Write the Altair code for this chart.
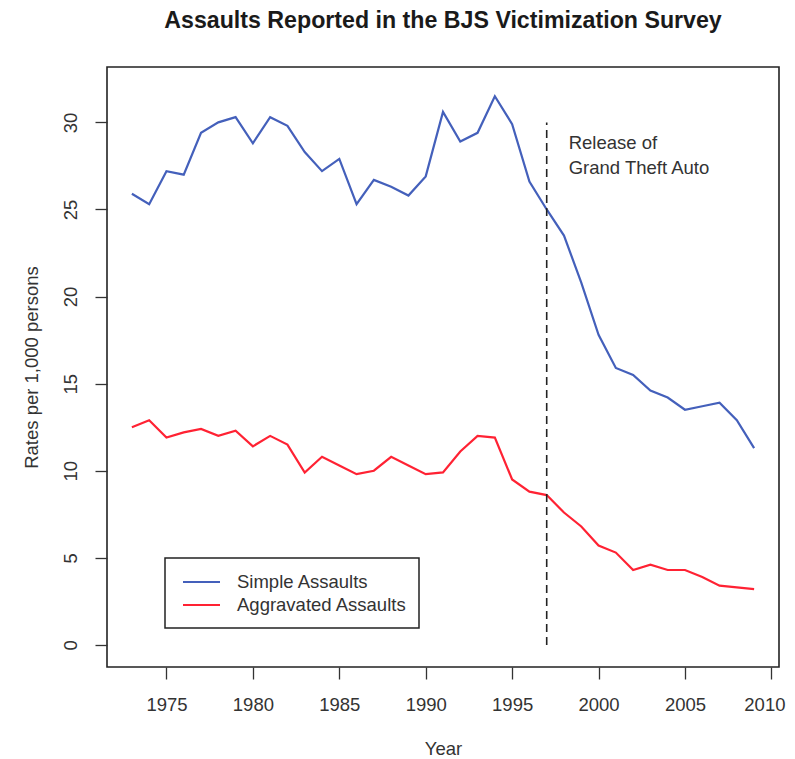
import altair as alt
import pandas as pd

years = list(range(1973, 2010))
simple_assaults = [25.9, 25.3, 27.2, 27.0, 29.4, 30.0, 30.3, 28.8, 30.3, 29.8,
                   28.3, 27.2, 27.9, 25.3, 26.7, 26.3, 25.8, 26.9, 30.6, 28.9,
                   29.4, 31.5, 29.9, 26.6, 25.0, 23.5, 20.8, 17.8, 15.9, 15.5,
                   14.6, 14.2, 13.5, 13.7, 13.9, 12.9, 11.3]
aggravated_assaults = [12.5, 12.9, 11.9, 12.2, 12.4, 12.0, 12.3, 11.4, 12.0, 11.5,
                       9.9, 10.8, 10.3, 9.8, 10.0, 10.8, 10.3, 9.8, 9.9, 11.1,
                       12.0, 11.9, 9.5, 8.8, 8.6, 7.6, 6.8, 5.7, 5.3, 4.3,
                       4.6, 4.3, 4.3, 3.9, 3.4, 3.3, 3.2]
series_names = ["Simple Assaults", "Aggravated Assaults"]
series_colors = ["#4460bb", "#ff2233"]
x_ticks = [1975, 1980, 1985, 1990, 1995, 2000, 2005, 2010]
y_ticks = [0, 5, 10, 15, 20, 25, 30]
gta_year = 1997
gta_label = ["Release of", "Grand Theft Auto"]

FONT = "Liberation Sans"
FS = 18.5

rows = []
for i, yr in enumerate(years):
    rows.append({"year": yr, "rate": simple_assaults[i], "series": series_names[0]})
    rows.append({"year": yr, "rate": aggravated_assaults[i], "series": series_names[1]})
df = pd.DataFrame(rows)

xscale = alt.Scale(domain=[1971.56, 2010.44], nice=False, zero=False)
yscale = alt.Scale(domain=[-1.27, 33.18], nice=False, zero=False)
cscale = alt.Scale(domain=series_names, range=series_colors)

xaxis = alt.Axis(values=x_ticks, format="d", title="Year", labelPadding=25,
                 labelBaseline="middle", titleX=336, titleY=81,
                 labelOffset={"condition": {"test": "datum.value >= 2010", "value": -7}, "value": 0},
                 titleBaseline="middle", titleAlign="center")
yaxis = alt.Axis(values=y_ticks, format="d", title="Rates per 1,000 persons",
                 labelAngle=270, labelAlign="center", labelBaseline="middle",
                 labelPadding=25, titleX=-76, titleY=300, titleAngle=270,
                 titleAlign="center", titleBaseline="middle")

lines = alt.Chart(df).mark_line(strokeWidth=2.2).encode(
    x=alt.X("year:Q", scale=xscale, axis=xaxis),
    y=alt.Y("rate:Q", scale=yscale, axis=yaxis),
    color=alt.Color("series:N", scale=cscale, legend=None),
    detail="series:N",
)

vline_df = pd.DataFrame({"year": [gta_year], "y0": [0], "y1": [30]})
vline = alt.Chart(vline_df).mark_rule(color="#222", strokeWidth=1.6, strokeDash=[8, 5]).encode(
    x=alt.X("year:Q", scale=xscale),
    y=alt.Y("y0:Q", scale=yscale),
    y2="y1:Q",
)

note_df = pd.DataFrame({"year": [gta_year], "rate": [28.5]})
note = alt.Chart(note_df).mark_text(
    text=gta_label, align="left", baseline="alphabetic", dx=22,
    font=FONT, fontSize=FS, lineHeight=25, color="#333"
).encode(x=alt.X("year:Q", scale=xscale), y=alt.Y("rate:Q", scale=yscale))

# legend (drawn as a boxed key, lower left)
leg_box = alt.Chart(pd.DataFrame({"a": [0]})).mark_rect(
    fill="white", stroke="#222", strokeWidth=1.5
).encode(x=alt.value(58), x2=alt.value(312), y=alt.value(491), y2=alt.value(561))

leg_layers = [leg_box]
for i, name in enumerate(series_names):
    yy = 515 + 23 * i
    leg_layers.append(
        alt.Chart(pd.DataFrame({"a": [0]})).mark_rule(color=series_colors[i], strokeWidth=2.2).encode(
            x=alt.value(76), x2=alt.value(113), y=alt.value(yy))
    )
    leg_layers.append(
        alt.Chart(pd.DataFrame({"a": [0]})).mark_text(
            text=name, align="left", baseline="middle", font=FONT, fontSize=FS, color="#333"
        ).encode(x=alt.value(130), y=alt.value(yy))
    )

chart = alt.layer(lines, vline, note, *leg_layers).properties(
    width=672, height=600,
    background="white",
    title=alt.TitleParams("Assaults Reported in the BJS Victimization Survey",
                          font=FONT, fontSize=23.2, fontWeight="bold", color="#1a1a1a",
                          anchor="middle", offset=34),
    autosize=alt.AutoSizeParams(type="none"),
    padding={"left": 99, "top": 59, "right": 8, "bottom": 90},
).configure_view(
    stroke="#222", strokeWidth=1.6
).configure_axis(
    domain=False, grid=False, tickColor="#333", tickSize=12, tickWidth=1.3,
    labelFont=FONT, labelFontSize=FS, labelColor="#333",
    titleFont=FONT, titleFontSize=FS, titleColor="#333", titleFontWeight="normal"
)

chart.save("out.html", embed_options={"renderer": "svg", "actions": False})
